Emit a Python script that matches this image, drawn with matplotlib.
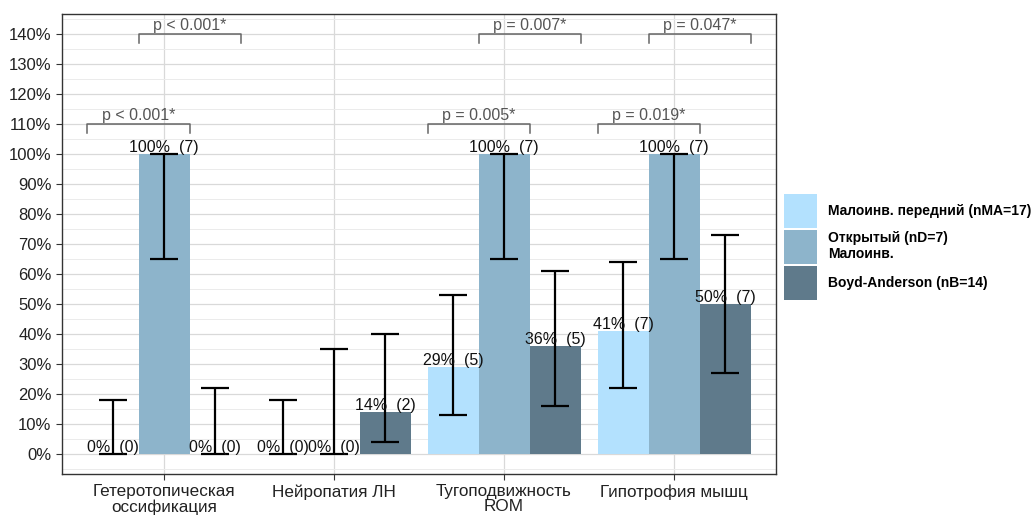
import numpy as np
import matplotlib
matplotlib.use('Agg')
import matplotlib.pyplot as plt
from matplotlib.patches import Patch
from matplotlib.ticker import MultipleLocator, FuncFormatter

plt.rcParams['font.family'] = ['Liberation Sans', 'DejaVu Sans']

categories = ['Гетеротопическая\nоссификация', 'Нейропатия ЛН', 'Тугоподвижность\nROM', 'Гипотрофия мышц']
groups = ['Малоинв. передний (nMA=17)', 'Открытый (nD=7)\nМалоинв.', 'Boyd-Anderson (nB=14)']
colors = ['#B3E1FE', '#8DB4CB', '#5F7A8B']

# percent, count, CI low, CI high per group
pct_ma = [0, 0, 29, 41]
n_ma = [0, 0, 5, 7]
lo_ma = [0, 0, 13, 22]
hi_ma = [18, 18, 53, 64]

pct_d = [100, 0, 100, 100]
n_d = [7, 0, 7, 7]
lo_d = [65, 0, 65, 65]
hi_d = [100, 35, 100, 100]

pct_b = [0, 14, 36, 50]
n_b = [0, 2, 5, 7]
lo_b = [0, 4, 16, 27]
hi_b = [22, 40, 61, 73]

# significance brackets: (category, first group, second group, height, label)
brackets = [
    (0, 0, 1, 1.10, 'p < 0.001*'),
    (0, 1, 2, 1.40, 'p < 0.001*'),
    (2, 0, 1, 1.10, 'p = 0.005*'),
    (2, 1, 2, 1.40, 'p = 0.007*'),
    (3, 0, 1, 1.10, 'p = 0.019*'),
    (3, 1, 2, 1.40, 'p = 0.047*'),
]

pcts = [pct_ma, pct_d, pct_b]
ns = [n_ma, n_d, n_b]
los = [lo_ma, lo_d, lo_b]
his = [hi_ma, hi_d, hi_b]

fig = plt.figure(figsize=(10.36, 5.15), dpi=100)
ax = fig.add_axes([62/1036, 1-474/515, 714/1036, 460/515])

x = np.arange(1, len(categories)+1)
w = 0.3
offsets = [-0.3, 0, 0.3]

for g in range(3):
    p = np.array(pcts[g]) / 100
    xs = x + offsets[g]
    ax.bar(xs, p, width=w, color=colors[g], zorder=2)
    lo = np.array(los[g]) / 100
    hi = np.array(his[g]) / 100
    ax.errorbar(xs, p, yerr=[p - lo, hi - p], fmt='none', ecolor='black',
                elinewidth=1.6, capsize=10, capthick=1.6, zorder=3)
    for xi, pi, ni in zip(xs, pcts[g], ns[g]):
        ax.text(xi, pi/100 - 0.003, f'{pi}%  ({ni})', ha='center', va='bottom',
                fontsize=11.5, color='#111111', zorder=4)

for c, g1, g2, h, lab in brackets:
    x1 = x[c] + offsets[g1] - w/2
    x2 = x[c] + offsets[g2] + w/2
    ax.plot([x1, x1, x2, x2], [h - 0.03, h, h, h - 0.03], color='#666666', lw=1.1, zorder=4)
    ax.text((x1 + x2)/2, h + 0.004, lab, ha='center', va='bottom', fontsize=11.5, color='#555555')

ax.set_xlim(0.4, 4.6)
ax.set_ylim(-0.067, 1.467)
ax.yaxis.set_major_locator(MultipleLocator(0.1))
ax.yaxis.set_minor_locator(MultipleLocator(0.05))
ax.yaxis.set_major_formatter(FuncFormatter(lambda v, pos: f'{v*100:.0f}%'))
ax.set_xticks(x)
ax.set_xticklabels(categories, fontsize=12.3, color='#222222', linespacing=1.0)
ax.tick_params(axis='y', labelsize=12, labelcolor='#222222', length=4, color='#333333')
ax.tick_params(axis='x', length=4, color='#333333')
ax.tick_params(axis='y', which='minor', length=0)
ax.grid(True, which='major', color='#D9D9D9', lw=0.9, zorder=0)
ax.grid(True, which='minor', axis='y', color='#EBEBEB', lw=0.7, zorder=0)
ax.set_axisbelow(True)
for s in ax.spines.values():
    s.set_color('#333333')
    s.set_linewidth(1.0)

handles = [Patch(facecolor=c, edgecolor='none') for c in colors]
fig.legend(handles, groups, loc='upper left', bbox_to_anchor=(784/1036, 1-194/515),
           frameon=False, borderpad=0, borderaxespad=0, handlelength=2.4, handleheight=3.4,
           labelspacing=0.15, handletextpad=0.75,
           prop={'weight': 'bold', 'size': 10})

fig.savefig('out.png', dpi=100)
